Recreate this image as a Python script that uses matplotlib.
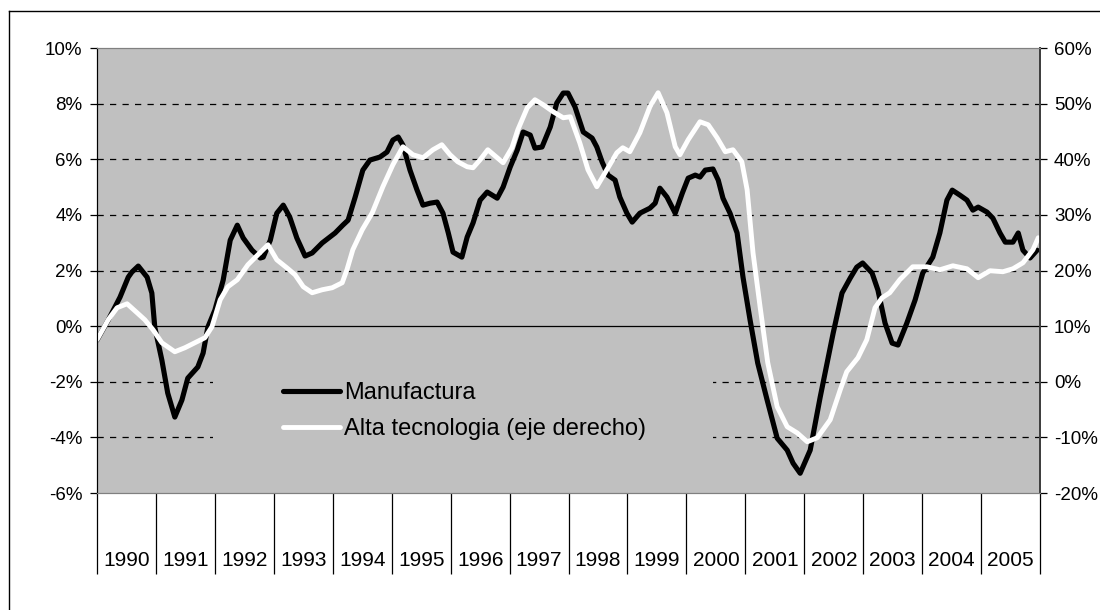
import matplotlib
matplotlib.use('Agg')
import matplotlib.pyplot as plt
from matplotlib.ticker import FuncFormatter
from matplotlib.patches import Rectangle
from matplotlib.lines import Line2D

plt.rcParams['font.family'] = ['Liberation Sans', 'DejaVu Sans']

years = list(range(1990, 2006))

# Manufactura (eje izquierdo, %)
manu_t = [1990.00, 1990.19, 1990.39, 1990.53, 1990.59, 1990.70, 1990.85, 1990.93, 1990.98,
          1991.10, 1991.20, 1991.32, 1991.44, 1991.54, 1991.71, 1991.80, 1991.88,
          1992.00, 1992.14, 1992.26, 1992.38, 1992.48, 1992.63, 1992.77, 1992.82, 1992.94,
          1993.05, 1993.16, 1993.27, 1993.39, 1993.53, 1993.65, 1993.82,
          1994.04, 1994.17, 1994.26, 1994.38, 1994.51, 1994.63, 1994.80, 1994.92,
          1995.02, 1995.11, 1995.19, 1995.31, 1995.43, 1995.53, 1995.65, 1995.77, 1995.87, 1995.96,
          1996.04, 1996.19, 1996.28, 1996.38, 1996.50, 1996.62, 1996.79, 1996.89,
          1997.01, 1997.13, 1997.23, 1997.35, 1997.43, 1997.55, 1997.69, 1997.80, 1997.91, 1997.99,
          1998.11, 1998.25, 1998.40, 1998.48, 1998.57, 1998.67, 1998.79, 1998.87, 1998.99,
          1999.08, 1999.21, 1999.38, 1999.47, 1999.55, 1999.67, 1999.81, 1999.93,
          2000.03, 2000.15, 2000.23, 2000.32, 2000.45, 2000.54, 2000.62, 2000.74, 2000.86, 2000.96,
          2001.08, 2001.21, 2001.37, 2001.54, 2001.71, 2001.81, 2001.93,
          2002.10, 2002.27, 2002.49, 2002.64, 2002.78, 2002.89, 2002.99,
          2003.15, 2003.25, 2003.37, 2003.49, 2003.59, 2003.74, 2003.88,
          2004.01, 2004.18, 2004.30, 2004.42, 2004.51, 2004.64, 2004.76, 2004.86, 2004.95,
          2005.10, 2005.20, 2005.32, 2005.41, 2005.54, 2005.63, 2005.71, 2005.83, 2005.95]
manu_v = [-0.50, 0.22, 1.04, 1.76, 1.94, 2.16, 1.76, 1.19, -0.04,
          -1.22, -2.41, -3.27, -2.66, -1.87, -1.47, -0.97, -0.04,
          0.58, 1.65, 3.09, 3.63, 3.17, 2.73, 2.45, 2.48, 3.09,
          4.06, 4.35, 3.92, 3.17, 2.52, 2.63, 2.99,
          3.35, 3.63, 3.81, 4.64, 5.61, 5.97, 6.08, 6.26,
          6.69, 6.80, 6.51, 5.61, 4.89, 4.35, 4.42, 4.46, 4.06, 3.35,
          2.66, 2.48, 3.20, 3.71, 4.53, 4.82, 4.60, 5.00,
          5.72, 6.33, 6.98, 6.87, 6.40, 6.44, 7.16, 8.02, 8.38, 8.38,
          7.88, 6.98, 6.76, 6.44, 5.90, 5.43, 5.25, 4.64, 4.06,
          3.74, 4.06, 4.24, 4.42, 4.96, 4.64, 4.06, 4.78,
          5.32, 5.43, 5.36, 5.61, 5.65, 5.25, 4.60, 4.06, 3.35, 1.76,
          0.22, -1.33, -2.66, -4.03, -4.46, -4.93, -5.29,
          -4.46, -2.55, -0.25, 1.19, 1.73, 2.12, 2.27,
          1.91, 1.29, 0.11, -0.61, -0.68, 0.11, 0.94,
          1.91, 2.48, 3.35, 4.53, 4.89, 4.71, 4.53, 4.17, 4.28,
          4.10, 3.88, 3.35, 3.02, 3.02, 3.35, 2.73, 2.45, 2.73]

# Alta tecnologia (eje derecho, %)
alta_t = [1990.00, 1990.19, 1990.34, 1990.51, 1990.68, 1990.81, 1990.95,
          1991.10, 1991.32, 1991.49, 1991.66, 1991.83, 1991.95,
          1992.09, 1992.22, 1992.38, 1992.56, 1992.73, 1992.90,
          1993.05, 1993.22, 1993.36, 1993.50, 1993.65, 1993.82, 1993.99,
          1994.16, 1994.24, 1994.34, 1994.50, 1994.67, 1994.85,
          1995.02, 1995.19, 1995.36, 1995.53, 1995.70, 1995.85, 1995.99,
          1996.12, 1996.28, 1996.38, 1996.50, 1996.63, 1996.79, 1996.89,
          1997.04, 1997.14, 1997.30, 1997.43, 1997.57, 1997.74, 1997.91,
          1998.03, 1998.11, 1998.19, 1998.33, 1998.48, 1998.62, 1998.82, 1998.92,
          1999.04, 1999.21, 1999.38, 1999.52, 1999.67, 1999.81, 1999.89,
          2000.03, 2000.23, 2000.37, 2000.52, 2000.66, 2000.79, 2000.94,
          2001.03, 2001.13, 2001.25, 2001.38, 2001.54, 2001.71, 2001.88,
          2002.05, 2002.22, 2002.44, 2002.61, 2002.72, 2002.91,
          2003.06, 2003.20, 2003.32, 2003.45, 2003.62, 2003.84,
          2004.08, 2004.30, 2004.52, 2004.76, 2004.95,
          2005.15, 2005.37, 2005.54, 2005.71, 2005.88, 2005.97]
alta_v = [7.55, 11.15, 13.30, 14.02, 12.40, 11.15, 9.35,
          7.01, 5.39, 6.11, 7.01, 7.91, 9.89,
          14.74, 17.08, 18.34, 21.03, 22.83, 24.63,
          21.93, 20.49, 19.24, 17.08, 16.00, 16.54, 16.90,
          17.80, 20.13, 23.73, 27.33, 30.38, 35.06,
          39.01, 42.25, 40.81, 40.27, 41.71, 42.61, 40.81,
          39.55, 38.65, 38.47, 39.91, 41.71, 40.27, 39.37,
          42.07, 45.30, 49.26, 50.70, 49.80, 48.54, 47.46,
          47.64, 45.30, 42.97, 38.11, 35.06, 37.57, 41.17, 42.07,
          41.35, 44.76, 49.44, 51.96, 48.36, 42.25, 40.81,
          43.51, 46.74, 46.20, 43.87, 41.35, 41.71, 39.55,
          34.52, 23.19, 13.48, 3.42, -4.49, -8.09, -9.20,
          -10.79, -10.07, -6.83, -1.44, 1.80, 4.31,
          7.55, 13.30, 15.10, 16.00, 18.34, 20.67,
          20.67, 20.13, 20.85, 20.31, 18.70,
          19.96, 19.78, 20.31, 21.39, 23.73, 25.89]

pct = FuncFormatter(lambda v, p: f'{v:.0f}%')

fig = plt.figure(figsize=(11, 6.1), dpi=100)
ax = fig.add_axes([0.0882, 0.1918, 0.8573, 0.7295])
ax.set_facecolor('#c0c0c0')
ax.set_xlim(1990, 2006)
ax.set_ylim(-6, 10)
ax.set_yticks(range(-6, 11, 2))
ax.yaxis.set_major_formatter(pct)

# gridlines (dashed), 0 line solid
ax.set_axisbelow(True)
ax.yaxis.grid(True, color='black', lw=0.9, linestyle=(0, (5, 5)))
gls = ax.get_ygridlines()
for i in (0, 3, 8):
    gls[i].set_visible(False)
ax.axhline(0, color='black', lw=0.9, zorder=1.5)

# legend background hides part of the grid
ax.add_patch(Rectangle((0.123, 0.05), 0.53, 0.27, transform=ax.transAxes,
                       facecolor='#c0c0c0', edgecolor='none', zorder=1))

l1, = ax.plot(manu_t, manu_v, color='black', lw=3.7, solid_joinstyle='round',
              solid_capstyle='round', zorder=3, label='Manufactura')

ax2 = ax.twinx()
ax2.set_ylim(-20, 60)
ax2.set_yticks(range(-20, 61, 10))
ax2.yaxis.set_major_formatter(pct)
l2, = ax2.plot(alta_t, alta_v, color='white', lw=3.5, solid_joinstyle='round',
               solid_capstyle='round', label='Alta tecnologia (eje derecho)')

# year separators and labels
ax.set_xticks(range(1990, 2007))
ax.set_xticklabels([])
ax.set_xticks([y + 0.5 for y in years], minor=True)
ax.set_xticklabels([str(y) for y in years], minor=True)
ax.tick_params(axis='x', which='major', length=58, width=0.9, color='black')
ax.tick_params(axis='x', which='minor', length=0, pad=42, labelsize=15)
ax.tick_params(axis='y', length=5, width=0.9, pad=5.5, labelsize=13.5)
ax2.tick_params(axis='y', length=5, width=0.9, pad=5, labelsize=13.5)

for a in (ax, ax2):
    a.spines['top'].set_color('#808080')
    a.spines['bottom'].set_color('#808080')
    a.spines['left'].set_color('black')
    a.spines['right'].set_color('#404040')
    a.spines['right'].set_linewidth(1.4)

ax2.legend(handles=[l1, l2], loc='upper left', bbox_to_anchor=(0.2573, 0.374),
           bbox_transform=fig.transFigure, frameon=False, fontsize=17,
           handlelength=2.4, handletextpad=0.2, labelspacing=0.62,
           borderpad=0, borderaxespad=0)

# outer frame (only left and top edges show)
fig.add_artist(Line2D([0.0082, 0.0082], [0, 0.982], color='black', lw=1))
fig.add_artist(Line2D([0.0082, 1], [0.982, 0.982], color='black', lw=1))

fig.savefig('out.png', dpi=100)
